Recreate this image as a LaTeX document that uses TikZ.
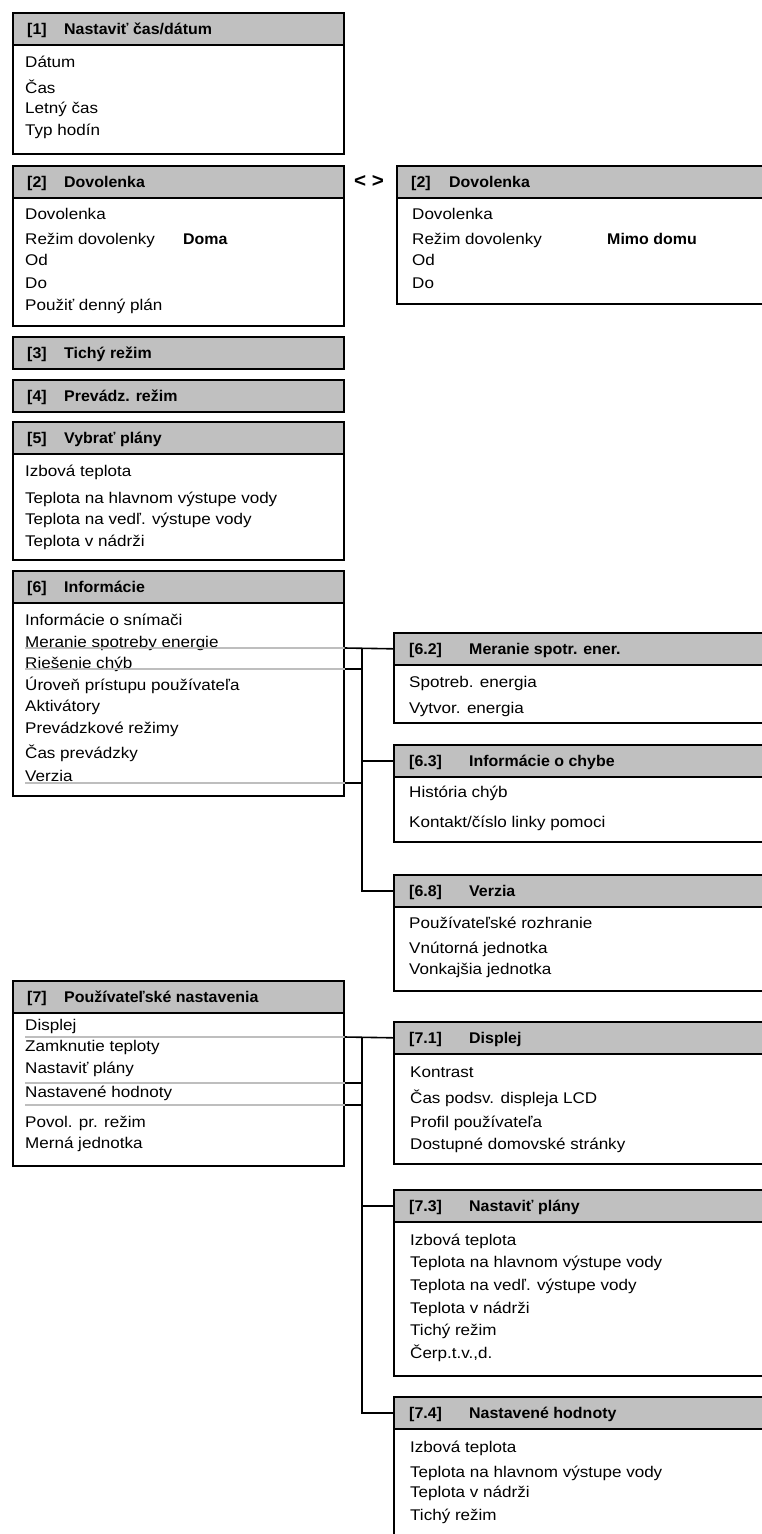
\documentclass[tikz,border=0pt]{standalone}
\usepackage{fontspec}
\setmainfont{Liberation Sans}[FakeStretch=1.1]
\newfontfamily\hdrfont{Liberation Sans}[FakeStretch=1.03]
\usetikzlibrary{positioning}
\definecolor{hdrgray}{HTML}{C0C0C0}
\definecolor{linegray}{HTML}{BEBEBE}
\tikzset{
  % boxar
  hdr/.style={draw=black,fill=hdrgray,line width=1.6pt,anchor=north west,
              inner sep=0pt,minimum height=32pt},
  body/.style={draw=black,fill=white,line width=1.6pt,anchor=north west,
               inner sep=0pt},
  htxt/.style={anchor=base west,inner sep=0pt,
               font=\hdrfont\bfseries\fontsize{15.5}{18}\selectfont},
  itm/.style={anchor=base west,inner sep=0pt,font=\fontsize{15.5}{18}\selectfont},
  val/.style={itm,font=\hdrfont\bfseries\fontsize{15.5}{18}\selectfont},
  % linjer
  uline/.style={draw=linegray,line width=1.4pt},
  link/.style={draw=black,line width=1.6pt},
}

\begin{document}
\begin{tikzpicture}[x=1pt,y=-1pt]
\useasboundingbox (0,0) rectangle (762,1534);
\clip (0,0) rectangle (762,1534);
  % [1]
  \node[body,minimum width=331pt,minimum height=109pt] (b1) at (12,44) {};
  \node[hdr,minimum width=331pt] (h1) at (12,12) {};
  \node[htxt] (n1) at (27,34) {[1]};
  \node[htxt] (t1) at (64,34) {Nastaviť čas/dátum};
  \foreach \t/\y [count=\k] in {Dátum/67,Čas/93,Letný čas/113,Typ hodín/135}
    \node[itm] (i1\k) at (25,\y) {\t};
  % [2] vänster
  \node[body,minimum width=331pt,minimum height=128pt] (b2) at (12,197) {};
  \node[hdr,minimum width=331pt] (h2) at (12,165) {};
  \node[htxt] (n2) at (27,187) {[2]};
  \node[htxt] (t2) at (64,187) {Dovolenka};
  \foreach \t/\y [count=\k] in {Dovolenka/219,Režim dovolenky/244,Od/265,Do/288,Použiť denný plán/310}
    \node[itm] (i2\k) at (25,\y) {\t};
  \node[val] (v2) at (183,244) {Doma};
  \node[val,font=\hdrfont\bfseries\fontsize{20}{22}\selectfont] (alt) at (354,187) {< >};
  % [2] höger
  \node[body,minimum width=400pt,minimum height=106pt] (rb2) at (396,197) {};
  \node[hdr,minimum width=400pt] (rh2) at (396,165) {};
  \node[htxt] (rn2) at (411,187) {[2]};
  \node[htxt] (rt2) at (449,187) {Dovolenka};
  \foreach \t/\y [count=\k] in {Dovolenka/219,Režim dovolenky/244,Od/265,Do/288}
    \node[itm] (r2\k) at (412,\y) {\t};
  \node[val] (rv2) at (607,244) {Mimo domu};
  % [3] [4]
  \node[hdr,minimum width=331pt] (h3) at (12,336) {};
  \node[htxt] (n3) at (27,358) {[3]};
  \node[htxt] (t3) at (64,358) {Tichý režim};
  \node[hdr,minimum width=331pt] (h4) at (12,379) {};
  \node[htxt] (n4) at (27,401) {[4]};
  \node[htxt] (t4) at (64,401) {Prevádz. režim};
  % [5]
  \node[body,minimum width=331pt,minimum height=106pt] (b5) at (12,453) {};
  \node[hdr,minimum width=331pt] (h5) at (12,421) {};
  \node[htxt] (n5) at (27,443) {[5]};
  \node[htxt] (t5) at (64,443) {Vybrať plány};
  \foreach \t/\y [count=\k] in {Izbová teplota/476,Teplota na hlavnom výstupe vody/503,
      Teplota na vedľ. výstupe vody/524,Teplota v nádrži/546}
    \node[itm] (i5\k) at (25,\y) {\t};
  % [6]
  \node[body,minimum width=331pt,minimum height=193pt] (b6) at (12,602) {};
  \node[hdr,minimum width=331pt] (h6) at (12,570) {};
  \node[htxt] (n6) at (27,592) {[6]};
  \node[htxt] (t6) at (64,592) {Informácie};
  \foreach \t/\y [count=\k] in {Informácie o snímači/625,Meranie spotreby energie/647,
      Riešenie chýb/668,Úroveň prístupu používateľa/690,Aktivátory/711,
      Prevádzkové režimy/733,Čas prevádzky/758,Verzia/781}
    \node[itm] (i6\k) at (25,\y) {\t};
  % [6.2] [6.3] [6.8]
  \node[body,minimum width=400pt,minimum height=58pt] (b62) at (393,664) {};
  \node[hdr,minimum width=400pt] (h62) at (393,632) {};
  \node[htxt] (n62) at (409,654) {[6.2]};
  \node[htxt] (t62) at (469,654) {Meranie spotr. ener.};
  \node[itm] (i621) at (409,687) {Spotreb. energia};
  \node[itm] (i622) at (409,713) {Vytvor. energia};
  \node[body,minimum width=400pt,minimum height=65pt] (b63) at (393,776) {};
  \node[hdr,minimum width=400pt] (h63) at (393,744) {};
  \node[htxt] (n63) at (409,766) {[6.3]};
  \node[htxt] (t63) at (469,766) {Informácie o chybe};
  \node[itm] (i631) at (409,797) {História chýb};
  \node[itm] (i632) at (409,827) {Kontakt/číslo linky pomoci};
  \node[body,minimum width=400pt,minimum height=84pt] (b68) at (393,906) {};
  \node[hdr,minimum width=400pt] (h68) at (393,874) {};
  \node[htxt] (n68) at (409,896) {[6.8]};
  \node[htxt] (t68) at (469,896) {Verzia};
  \foreach \t/\y [count=\k] in {Používateľské rozhranie/928,Vnútorná jednotka/953,
      Vonkajšia jednotka/974}
    \node[itm] (i68\k) at (409,\y) {\t};
  % [7]
  \node[body,minimum width=331pt,minimum height=153pt] (b7) at (12,1012) {};
  \node[hdr,minimum width=331pt] (h7) at (12,980) {};
  \node[htxt] (n7) at (27,1002) {[7]};
  \node[htxt] (t7) at (64,1002) {Používateľské nastavenia};
  \foreach \t/\y [count=\k] in {Displej/1030,Zamknutie teploty/1051,Nastaviť plány/1073,
      Nastavené hodnoty/1097,Povol. pr. režim/1127,Merná jednotka/1148}
    \node[itm] (i7\k) at (25,\y) {\t};
  % [7.1] [7.3] [7.4]
  \node[body,minimum width=400pt,minimum height=110pt] (b71) at (393,1053) {};
  \node[hdr,minimum width=400pt] (h71) at (393,1021) {};
  \node[htxt] (n71) at (409,1043) {[7.1]};
  \node[htxt] (t71) at (469,1043) {Displej};
  \foreach \t/\y [count=\k] in {Kontrast/1077,Čas podsv. displeja LCD/1103,
      Profil používateľa/1127,Dostupné domovské stránky/1149}
    \node[itm] (i71\k) at (410,\y) {\t};
  \node[body,minimum width=400pt,minimum height=154pt] (b73) at (393,1221) {};
  \node[hdr,minimum width=400pt] (h73) at (393,1189) {};
  \node[htxt] (n73) at (409,1211) {[7.3]};
  \node[htxt] (t73) at (469,1211) {Nastaviť plány};
  \foreach \t/\y [count=\k] in {Izbová teplota/1245,Teplota na hlavnom výstupe vody/1267,
      Teplota na vedľ. výstupe vody/1290,Teplota v nádrži/1313,Tichý režim/1335,
      {Čerp.t.v.,d.}/1358}
    \node[itm] (i73\k) at (410,\y) {\t};
  \node[body,minimum width=400pt,minimum height=200pt] (b74) at (393,1428) {};
  \node[hdr,minimum width=400pt] (h74) at (393,1396) {};
  \node[htxt] (n74) at (409,1418) {[7.4]};
  \node[htxt] (t74) at (469,1418) {Nastavené hodnoty};
  \foreach \t/\y [count=\k] in {Izbová teplota/1452,Teplota na hlavnom výstupe vody/1477,
      Teplota v nádrži/1497,Tichý režim/1520}
    \node[itm] (i74\k) at (410,\y) {\t};
  % kopplingar [6]
  \coordinate (u6a) at (25,648);
  \coordinate (u6b) at (25,669);
  \coordinate (u6c) at (25,783);
  \coordinate (bus6) at (362,648);
  \draw[uline] (u6a) -- (u6a -| b6.east);
  \draw[uline] (u6b) -- (u6b -| b6.east);
  \draw[uline] (u6c) -- (u6c -| b6.east);
  \draw[link] (u6a -| b6.east) -- (h62.west);
  \draw[link] (u6b -| b6.east) -- (u6b -| bus6);
  \draw[link] (u6c -| b6.east) -- (u6c -| bus6);
  \draw[link] (bus6) |- (h68.west);
  \draw[link] (bus6 |- h63.west) -- (h63.west);
  % kopplingar [7]
  \coordinate (u7a) at (25,1037);
  \coordinate (u7b) at (25,1083);
  \coordinate (u7c) at (25,1105);
  \coordinate (bus7) at (362,1037);
  \draw[uline] (u7a) -- (u7a -| b7.east);
  \draw[uline] (u7b) -- (u7b -| b7.east);
  \draw[uline] (u7c) -- (u7c -| b7.east);
  \draw[link] (u7a -| b7.east) -- (h71.west);
  \draw[link] (u7b -| b7.east) -- (u7b -| bus7);
  \draw[link] (u7c -| b7.east) -- (u7c -| bus7);
  \draw[link] (bus7) |- (h74.west);
  \draw[link] (bus7 |- h73.west) -- (h73.west);
\end{tikzpicture}
\end{document}
